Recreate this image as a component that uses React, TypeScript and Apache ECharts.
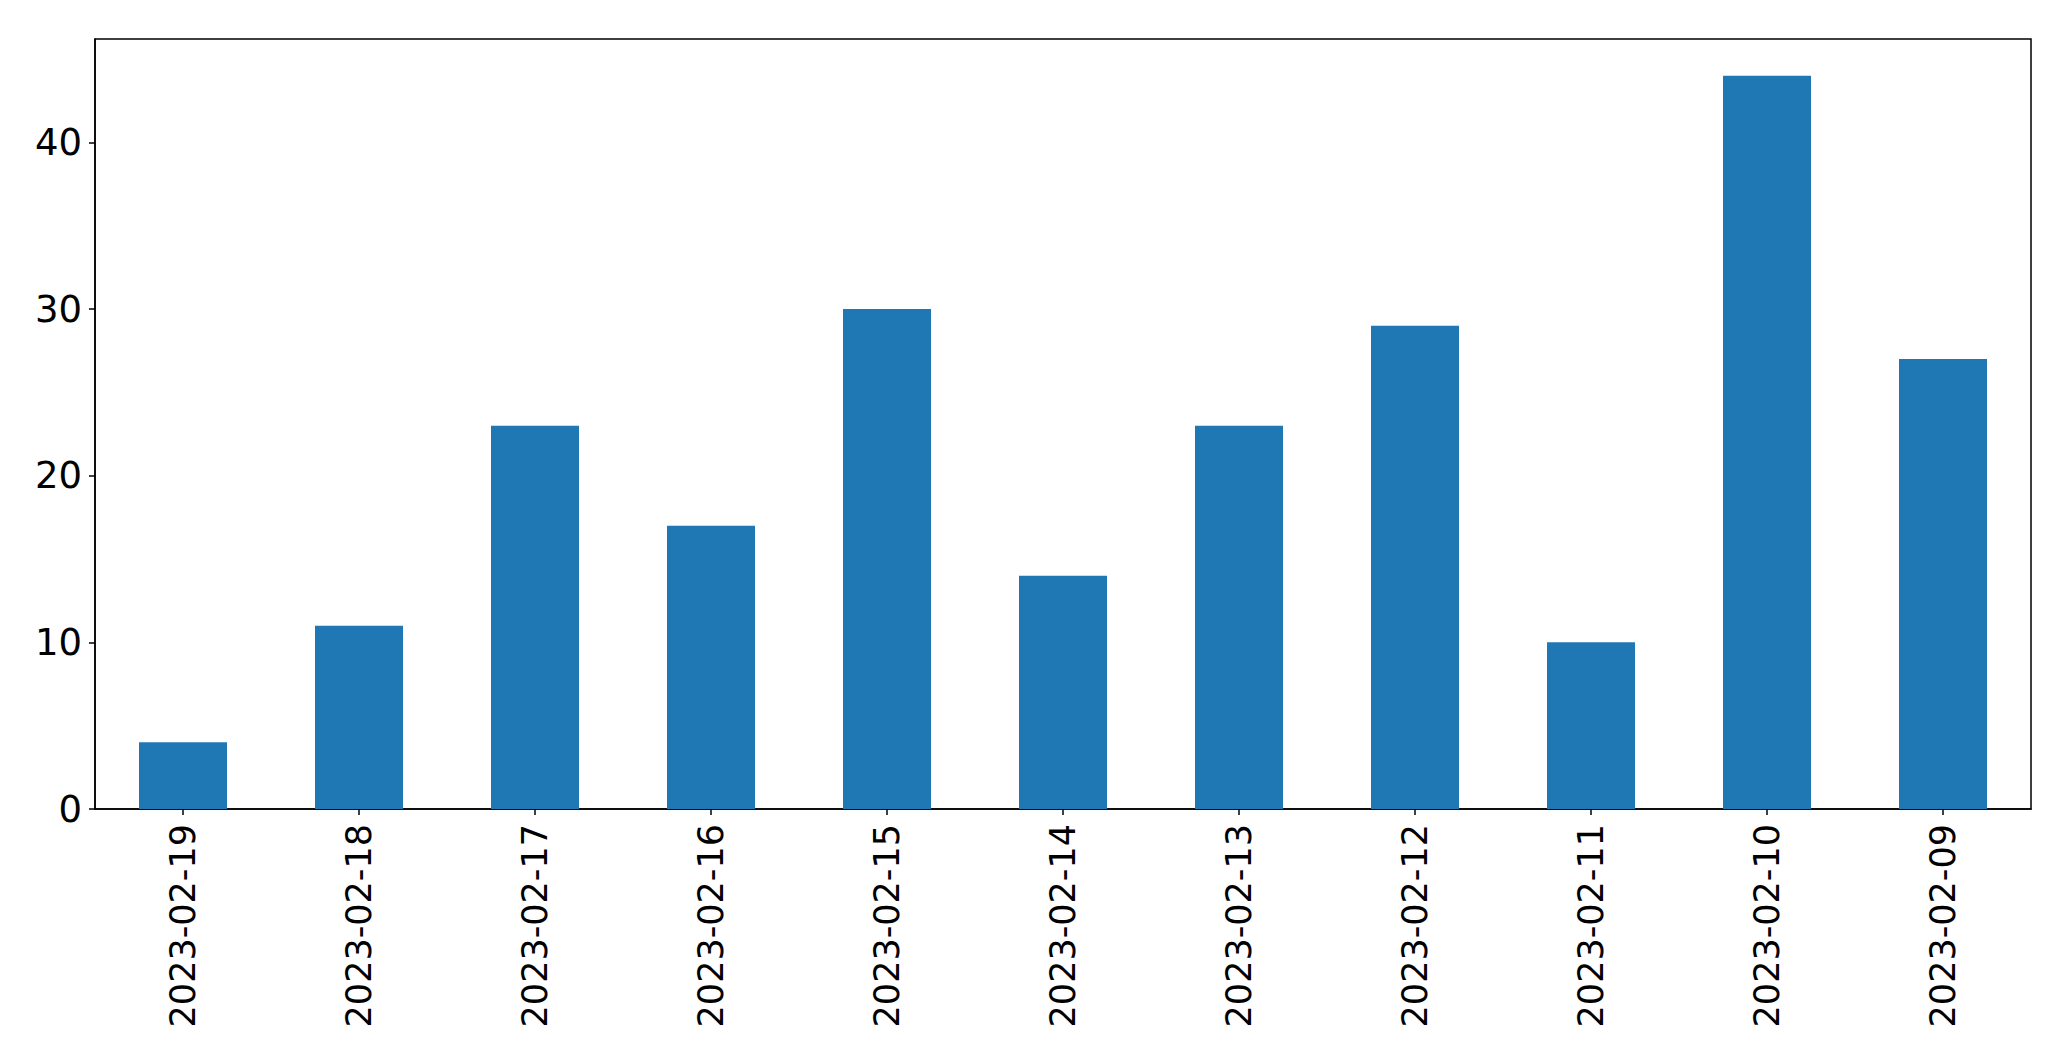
import React, { useEffect, useRef } from "react";
import * as echarts from "echarts";

const categories = [
  "2023-02-19",
  "2023-02-18",
  "2023-02-17",
  "2023-02-16",
  "2023-02-15",
  "2023-02-14",
  "2023-02-13",
  "2023-02-12",
  "2023-02-11",
  "2023-02-10",
  "2023-02-09",
];
const values = [4, 11, 23, 17, 30, 14, 23, 29, 10, 44, 27];
const yMax = 46.2;
const yInterval = 10;

export default function App() {
  const ref = useRef<HTMLDivElement>(null);
  useEffect(() => {
    if (!ref.current) return;
    const chart = echarts.init(ref.current, null, { renderer: "svg" });
    const font = "DejaVu Sans";
    chart.setOption({
      animation: false,
      backgroundColor: "#ffffff",
      grid: {
        left: 95,
        top: 39,
        right: 40,
        bottom: 252,
        show: true,
        borderColor: "#000000",
        borderWidth: 1.5,
        backgroundColor: "transparent",
      },
      xAxis: {
        type: "category",
        data: categories,
        boundaryGap: true,
        axisLine: { show: true, lineStyle: { color: "#000", width: 1.5 } },
        axisTick: {
          show: true,
          alignWithLabel: true,
          length: 6,
          lineStyle: { color: "#000", width: 1.5 },
        },
        axisLabel: {
          rotate: 90,
          margin: 15,
          fontSize: 35,
          fontFamily: font,
          color: "#000",
          interval: 0,
        },
        splitLine: { show: false },
      },
      yAxis: {
        type: "value",
        min: 0,
        max: yMax,
        interval: yInterval,
        axisLine: { show: true, lineStyle: { color: "#000", width: 1.5 } },
        axisTick: {
          show: true,
          length: 6,
          lineStyle: { color: "#000", width: 1.5 },
        },
        axisLabel: {
          margin: 13,
          fontSize: 37,
          fontFamily: font,
          color: "#000",
          showMaxLabel: false,
          formatter: (v: number) => (v % yInterval === 0 ? String(v) : ""),
        },
        splitLine: { show: false },
      },
      series: [
        {
          type: "bar",
          data: values,
          barWidth: "50%",
          itemStyle: { color: "#1f77b4" },
        },
      ],
    });
    return () => chart.dispose();
  }, []);
  return (
    <div
      ref={ref}
      style={{ position: "fixed", left: 0, top: 0, width: "2071px", height: "1061px" }}
    />
  );
}
